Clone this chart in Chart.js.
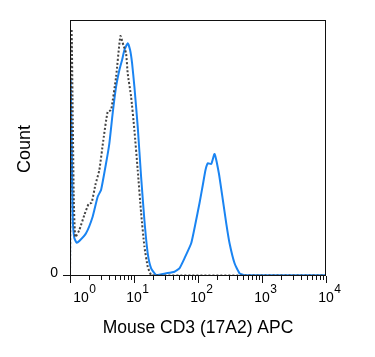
<!DOCTYPE html>
<html>
<head>
<meta charset="utf-8">
<script src="https://cdn.jsdelivr.net/npm/chart.js@4/dist/chart.umd.min.js"></script>
<style>
html,body{margin:0;padding:0;background:#fff;}
#c{display:block;}
</style>
</head>
<body>
<canvas id="c" width="375" height="357"></canvas>
<script>
// Stained sample (blue, solid)
const stainedX = [1, 1.022, 1.067, 1.106, 1.168, 1.268, 1.399, 1.78, 2.259, 2.704, 3.056, 3.659, 4.121, 4.64, 5.25, 5.91, 6.51, 7.08, 7.97, 8.69, 9.34, 10.14, 11.43, 12.91, 14.53, 16.38, 18.52, 22.18, 31.8, 42.9, 51.3, 61.5, 78.3, 91.4, 105.5, 118.9, 131, 142.3, 161, 181.2, 211.8, 244.5, 276.3, 311.2, 372.6, 446.6, 534.6, 10000];
const stainedY = [0, 196, 126, 56, 38, 33.3, 35, 42.7, 59.3, 79.3, 86, 112.7, 132.7, 162.7, 189.3, 206, 216, 226, 232.7, 226, 212.7, 189.3, 149.3, 99.3, 56, 22.7, 7.7, 1, 2.7, 4.3, 7.7, 17.7, 32.7, 52.7, 72.7, 91, 106, 112.7, 112, 122, 102.7, 76, 52.7, 32.7, 12.7, 2.7, 0.8, 0.8];
// Isotype control (dark grey, dotted)
const controlX = [1, 1.059, 1.106, 1.147, 1.21, 1.399, 1.675, 1.954, 2.178, 2.488, 2.874, 3.32, 3.877, 4.38, 5.25, 6.13, 6.82, 7.52, 7.97, 9.01, 10.14, 11.43, 12.91, 14.55, 16.38, 18.52, 22, 10000];
const controlY = [0, 246.7, 156, 76, 39, 46, 61, 72, 73.3, 91, 106, 136, 164.3, 166, 199.3, 240, 231, 222.7, 202.7, 179.3, 146, 106, 63, 29.3, 9.3, 1, 0.6, 0.6];
// Axis
const decades = [0, 1, 2, 3, 4];
const tickBase = "10";
const yTickLabels = ["0"];
const xTitle = "Mouse CD3 (17A2) APC";
const yTitle = "Count";

const toPts = (xs, ys) => xs.map((x, i) => ({x: x, y: ys[i]}));

const decor = {
  id: 'decor',
  afterDatasetsDraw(chart) {
    const ctx = chart.ctx;
    const a = chart.chartArea;
    const xs = chart.scales.x;
    ctx.save();
    // frame
    ctx.strokeStyle = '#111';
    ctx.lineWidth = 1;
    ctx.strokeRect(a.left + 0.5, a.top + 0.5, a.right - a.left - 1, a.bottom - a.top - 1);
    // x ticks
    ctx.beginPath();
    decades.forEach((d, i) => {
      const p = Math.round(xs.getPixelForValue(Math.pow(10, d))) + 0.5;
      ctx.moveTo(p, a.bottom); ctx.lineTo(p, a.bottom + 7);
      if (i < decades.length - 1) {
        for (let m = 2; m <= 9; m++) {
          const q = Math.round(xs.getPixelForValue(m * Math.pow(10, d))) + 0.5;
          ctx.moveTo(q, a.bottom); ctx.lineTo(q, a.bottom + 4);
        }
      }
    });
    // y tick at 0
    const y0 = chart.scales.y.getPixelForValue(0);
    ctx.moveTo(a.left - 7, Math.round(y0) - 0.5); ctx.lineTo(a.left, Math.round(y0) - 0.5);
    ctx.stroke();
    // x tick labels
    ctx.fillStyle = '#000';
    decades.forEach((d, i) => {
      let p = xs.getPixelForValue(Math.pow(10, d));
      if (i === 0) p += 11;
      ctx.font = '14px "Liberation Sans", Arial, sans-serif';
      ctx.textAlign = 'center';
      ctx.textBaseline = 'alphabetic';
      const w = ctx.measureText(tickBase).width;
      ctx.fillText(tickBase, p, 302);
      ctx.font = '12px "Liberation Sans", Arial, sans-serif';
      ctx.textAlign = 'left';
      ctx.fillText(String(d), p + w / 2 + 0.5, 293);
    });
    // y tick label
    ctx.font = '14px "Liberation Sans", Arial, sans-serif';
    ctx.textAlign = 'right';
    ctx.fillText(yTickLabels[0], 58, 277);
    // titles
    ctx.font = '17.5px "Liberation Sans", Arial, sans-serif';
    ctx.textAlign = 'center';
    ctx.fillText(xTitle, 198, 333);
    ctx.translate(29.5, 149);
    ctx.rotate(-Math.PI / 2);
    ctx.font = '18px "Liberation Sans", Arial, sans-serif';
    ctx.fillText(yTitle, 0, 0);
    ctx.restore();
  }
};

new Chart(document.getElementById('c'), {
  type: 'line',
  data: {
    datasets: [
      {
        label: 'Control',
        data: toPts(controlX, controlY),
        borderColor: '#444',
        borderWidth: 2,
        borderDash: [2, 2],
        pointRadius: 0,
        tension: 0.15,
        fill: false
      },
      {
        label: 'CD3',
        data: toPts(stainedX, stainedY),
        borderColor: '#1a84f2',
        borderWidth: 2,
        pointRadius: 0,
        tension: 0.15,
        fill: false
      }
    ]
  },
  options: {
    responsive: false,
    animation: false,
    layout: {padding: {left: 70, right: 49, top: 20, bottom: 81}},
    plugins: {legend: {display: false}, tooltip: {enabled: false}},
    scales: {
      x: {type: 'logarithmic', min: 1, max: 10000, display: false},
      y: {type: 'linear', min: 0, max: 256, display: false}
    }
  },
  plugins: [decor]
});
</script>
</body>
</html>
